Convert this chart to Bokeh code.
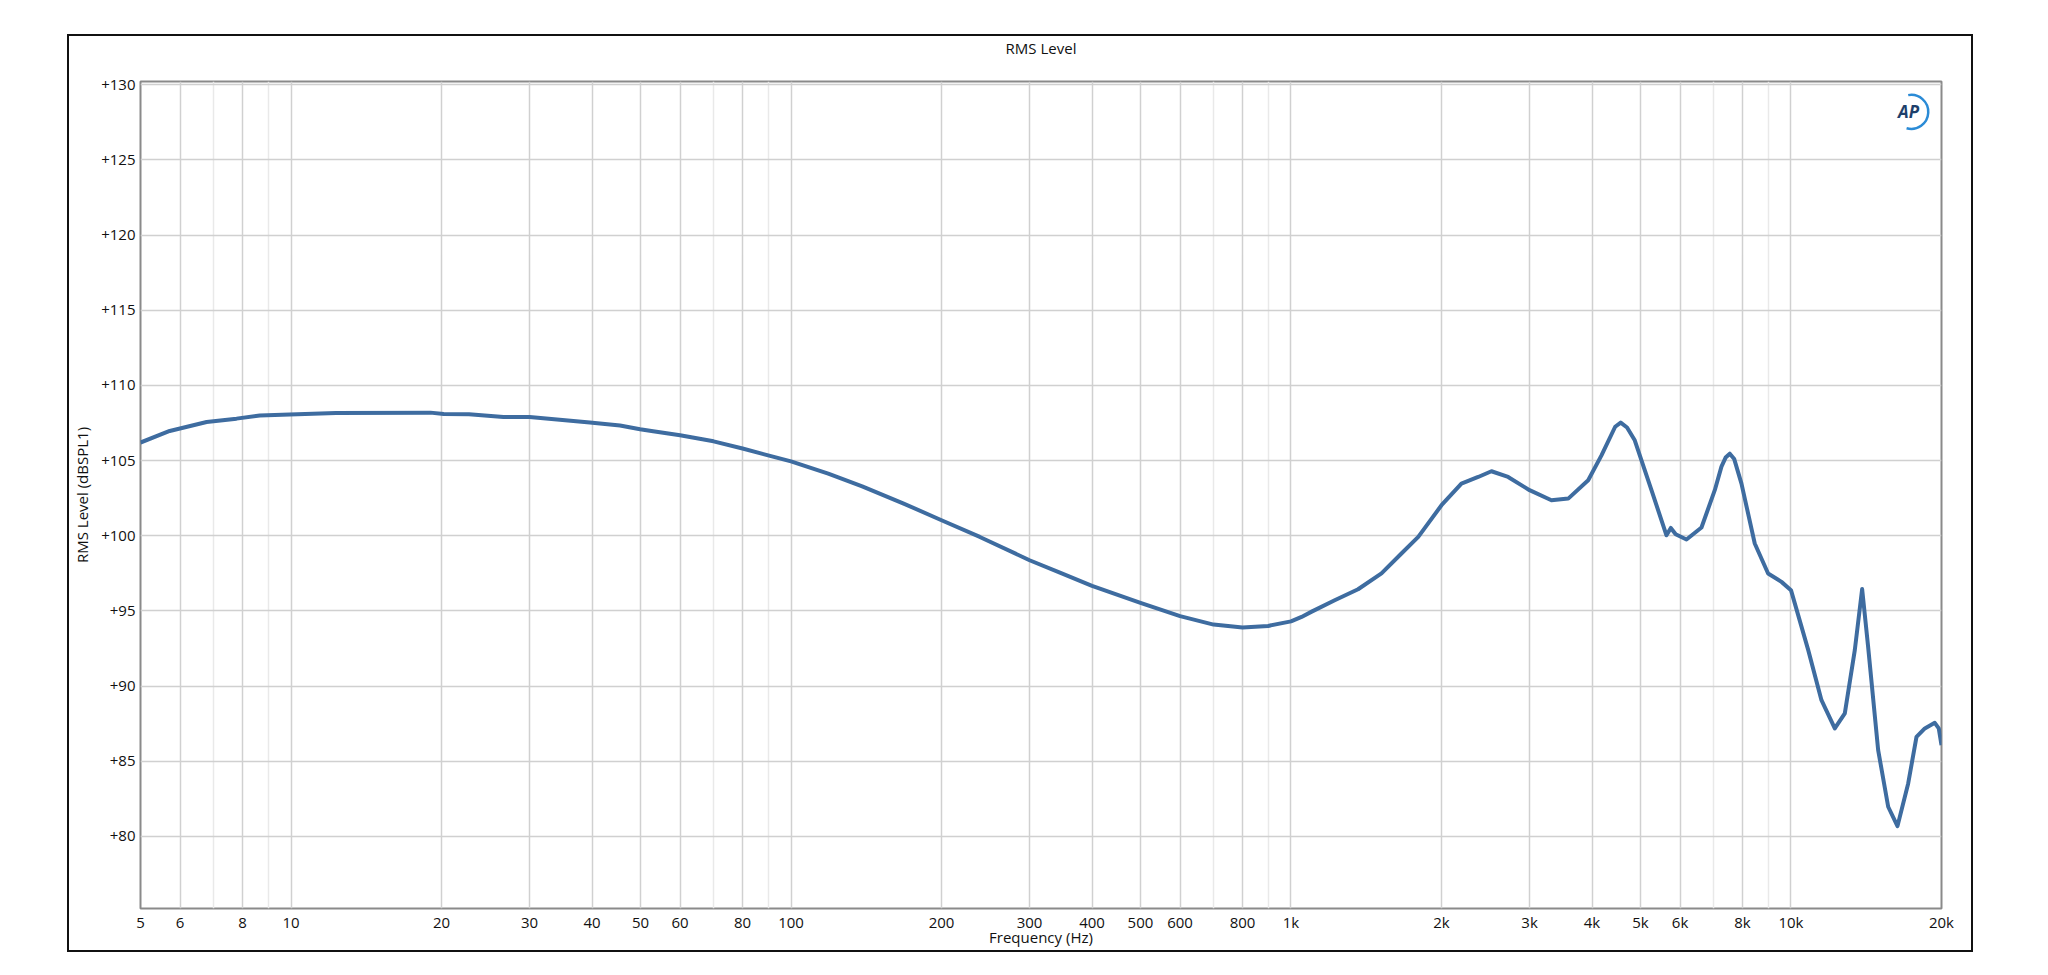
from bokeh.plotting import figure
from bokeh.models import Range1d, FixedTicker, CustomJSTickFormatter, Title
from bokeh.core.properties import value
from bokeh.embed import file_html
from bokeh.resources import INLINE

# ---- data ----
freq_hz = [5, 5.72, 6.78, 7.78, 8.66, 9.94, 12.3, 19.0, 20.2, 22.7, 26.6, 30, 39.6, 45.5,
           49.9, 53.0, 60, 70, 80, 90, 100, 118.7, 138.8, 168, 200, 238.6, 300, 345, 400,
           500, 600, 700, 800, 900, 1000, 1050, 1100, 1223, 1362, 1517, 1663, 1797, 2000,
           2192, 2368, 2517, 2718, 3000, 3318, 3585, 3930, 4178, 4450, 4565, 4700, 4870,
           5260, 5636, 5750, 5880, 6180, 6622, 7040, 7260, 7400, 7544, 7700, 7961, 8463,
           9000, 9572, 10000, 10827, 11507, 12236, 12813, 13416, 13878, 14265, 14940,
           15645, 16330, 17156, 17824, 18520, 19390, 19750, 20000]
level_db = [106.2, 106.97, 107.57, 107.79, 108.0, 108.06, 108.17, 108.19, 108.1, 108.08,
            107.9, 107.9, 107.53, 107.33, 107.08, 106.95, 106.68, 106.28, 105.8, 105.35,
            104.95, 104.13, 103.29, 102.14, 101.03, 99.92, 98.37, 97.55, 96.66, 95.53,
            94.65, 94.09, 93.9, 94.0, 94.3, 94.6, 94.95, 95.71, 96.44, 97.49, 98.82, 99.92,
            102.03, 103.47, 103.91, 104.29, 103.91, 103.03, 102.36, 102.47, 103.69, 105.35,
            107.25, 107.53, 107.2, 106.35, 103.03, 100.03, 100.52, 100.1, 99.75, 100.55,
            103.03, 104.6, 105.2, 105.46, 105.1, 103.47, 99.48, 97.49, 96.93, 96.38, 92.39,
            89.06, 87.18, 88.18, 92.39, 96.45, 92.61, 85.74, 81.97, 80.68, 83.52, 86.62,
            87.18, 87.55, 87.18, 86.07]

x_major_ticks = [5, 6, 8, 10, 20, 30, 40, 50, 60, 80, 100, 200, 300, 400, 500, 600, 800,
                 1000, 2000, 3000, 4000, 5000, 6000, 8000, 10000, 20000]
x_minor_ticks = [7, 9, 70, 90, 700, 900, 7000, 9000]
y_ticks = [80, 85, 90, 95, 100, 105, 110, 115, 120, 125, 130]

title_text = "RMS Level"
x_label = "Frequency (Hz)"
y_label = "RMS Level (dBSPL1)"

FONT = "Open Sans"
FS = "15px"

p = figure(x_axis_type="log", x_range=Range1d(5, 20000), y_range=Range1d(75.2, 130.22),
           frame_width=1801, frame_height=827,
           min_border_left=70, min_border_right=30, min_border_top=45, min_border_bottom=42,
           output_backend="svg", toolbar_location=None, title=None)
p.margin = (36, 0, 0, 69)
p.styles = {"outline": "2px solid #111111"}
p.background_fill_color = "white"
p.border_fill_color = "white"
p.outline_line_color = "#8a8a8a"
p.outline_line_width = 2

# spacer between frame and title (first added = nearest the frame)
spacer = Title(text=" ", text_font=FONT, text_font_size=FS, standoff=9)
p.add_layout(spacer, "above")
t = Title(text=title_text, align="center", vertical_align="top", text_font=FONT,
          text_font_size=FS, text_font_style="normal", text_color="#111111", standoff=-18)
p.add_layout(t, "above")

# x axis
p.xaxis.ticker = FixedTicker(ticks=x_major_ticks, minor_ticks=x_minor_ticks)
p.xaxis.formatter = CustomJSTickFormatter(
    code="return tick >= 1000 ? (tick/1000) + 'k' : tick.toString();")
p.xaxis.axis_label = x_label
p.xaxis.major_label_standoff = 3
p.xaxis.axis_label_standoff = -8

# y axis
p.yaxis.ticker = FixedTicker(ticks=y_ticks)
p.yaxis.formatter = CustomJSTickFormatter(code="return '+' + tick.toString();")
p.yaxis.axis_label = y_label
p.yaxis.major_label_standoff = 5
p.yaxis.axis_label_standoff = 6

for ax in (p.xaxis, p.yaxis):
    ax.axis_line_color = None
    ax.major_tick_line_color = None
    ax.minor_tick_line_color = None
    ax.major_tick_out = 0
    ax.major_tick_in = 0
    ax.minor_tick_out = 0
    ax.minor_tick_in = 0
    ax.major_label_text_font = FONT
    ax.major_label_text_font_size = FS
    ax.major_label_text_color = "#111111"
    ax.axis_label_text_font = FONT
    ax.axis_label_text_font_size = FS
    ax.axis_label_text_font_style = "normal"
    ax.axis_label_text_color = "#111111"

p.xgrid.grid_line_color = "#d0d0d0"
p.xgrid.grid_line_width = 1.5
p.xgrid.minor_grid_line_color = "#e9e9e9"
p.xgrid.minor_grid_line_width = 1.5
p.ygrid.grid_line_color = "#d0d0d0"
p.ygrid.grid_line_width = 1.5

p.line(freq_hz, level_db, line_color="#3e6ca0", line_width=4, line_join="round")

# AP logo (decoration)
p.arc(x=[17400], y=[128.2], radius=17, radius_units="screen",
      start_angle=-1.85, end_angle=1.75, line_color="#2b8bd6", line_width=2.5)
p.text(x=[17180], y=[128.25], text=["AP"], text_font=value("Open Sans"),
       text_font_style="bold italic", text_font_size="17px", text_color="#1d3f6b",
       text_align="center", text_baseline="middle")

open("out.html", "w").write(file_html(p, INLINE))
